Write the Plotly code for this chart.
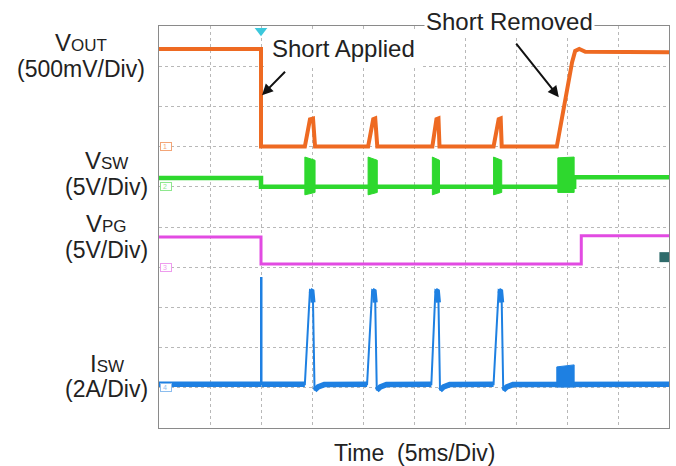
import plotly.graph_objects as go
import numpy as np

# ---------------- data (time in ms, 5 ms/div; amplitudes in screen divisions) -------------
# VOUT (500 mV/div)
vout_t = [0, 10.0, 10.0, 14.3, 14.8, 15.1, 15.3, 20.5, 21.0, 21.2, 21.4, 26.8, 27.2, 27.4, 27.5,
          32.8, 33.3, 33.5, 33.6, 39.0, 40.5, 40.8, 41.2, 41.8, 50]
vout_v = [9.43, 9.43, 7.0, 7.0, 7.68, 7.70, 7.0, 7.0, 7.68, 7.70, 7.0, 7.0, 7.68, 7.70, 7.0,
          7.0, 7.68, 7.70, 7.0, 7.0, 9.10, 9.38, 9.43, 9.36, 9.35]

# VSW (5 V/div) - level trace
vsw_t = [0, 10.0, 10.0, 40.7, 40.7, 50]
vsw_v = [6.22, 6.22, 6.0, 6.0, 6.24, 6.24]
# VSW switching bursts
burst_start = [14.3, 20.5, 26.8, 32.8, 39.1]
burst_end = [15.3, 21.4, 27.5, 33.6, 40.7]
burst_top_l = [6.74, 6.74, 6.74, 6.74, 6.72]
burst_top_r = [6.66, 6.66, 6.66, 6.66, 6.74]
burst_bot_l = [5.80, 5.80, 5.80, 5.80, 5.86]
burst_bot_r = [5.86, 5.86, 5.86, 5.86, 5.86]

# VPG (5 V/div)
vpg_t = [0, 10.0, 10.0, 41.4, 41.4, 50]
vpg_v = [4.75, 4.75, 4.08, 4.08, 4.78, 4.78]

# ISW (2 A/div)
isw_t = [0, 10.0, 10.0, 10.05, 10.05, 14.3, 14.8, 15.0, 15.1, 15.25, 15.6, 16.2,
         20.4, 20.9, 21.1, 21.2, 21.35, 21.7, 22.3,
         26.7, 27.1, 27.3, 27.4, 27.55, 27.9, 28.5,
         32.8, 33.3, 33.5, 33.6, 33.75, 34.1, 34.7, 50]
isw_v = [1.09, 1.09, 3.73, 3.73, 1.09, 1.09, 3.43, 3.40, 3.12, 0.94, 1.02, 1.08,
         1.09, 3.43, 3.40, 3.12, 0.94, 1.02, 1.08,
         1.09, 3.43, 3.40, 3.12, 0.94, 1.02, 1.08,
         1.09, 3.43, 3.40, 3.12, 0.94, 1.02, 1.08, 1.09]
# ISW burst block when short is removed
isw_blk_t = [39.0, 40.7]
isw_blk_top = [1.52, 1.57]
isw_blk_base = [1.02, 1.02]

# channel ground markers (divisions)
gnd_levels = [7.0, 6.0, 4.0, 1.0]
gnd_labels = ["1", "2", "3", "4"]
trig_time = 10.0
trig_level = 4.25

C_OUT = "#EE6A22"
C_SW = "#2ED82E"
C_PG = "#E24BE2"
C_I = "#1E80E2"
FONT = "Liberation Sans, Arial, sans-serif"

fig = go.Figure()

# VOUT
fig.add_trace(go.Scatter(x=vout_t, y=vout_v, mode="lines",
                         line=dict(color=C_OUT, width=4), hoverinfo="skip"))

# VSW bursts polygons
bx, by = [], []
for s, e, tl, tr, br, bl in zip(burst_start, burst_end, burst_top_l, burst_top_r, burst_bot_r, burst_bot_l):
    bx += [s, e, e, s, s, None]
    by += [tl, tr, br, bl, tl, None]
fig.add_trace(go.Scatter(x=bx, y=by, mode="lines", fill="toself", fillcolor=C_SW,
                         line=dict(color=C_SW, width=1), hoverinfo="skip"))
fig.add_trace(go.Scatter(x=vsw_t, y=vsw_v, mode="lines",
                         line=dict(color=C_SW, width=4.5), hoverinfo="skip"))

# VPG
fig.add_trace(go.Scatter(x=vpg_t, y=vpg_v, mode="lines",
                         line=dict(color=C_PG, width=3), hoverinfo="skip"))

# ISW thin trace (full)
fig.add_trace(go.Scatter(x=isw_t, y=isw_v, mode="lines",
                         line=dict(color=C_I, width=2), hoverinfo="skip"))
# ISW thick baseline + thick peaks
it = np.array(isw_t, dtype=float)
iv = np.array(isw_v, dtype=float)
base_mask = iv < 1.15
thick_y = np.where(base_mask, iv, np.nan)
fig.add_trace(go.Scatter(x=it, y=thick_y, mode="lines", connectgaps=False,
                         line=dict(color=C_I, width=5.5), hoverinfo="skip"))
peak_mask = iv > 3.0
peak_mask[1:5] = False
peak_y = np.where(peak_mask, iv, np.nan)
fig.add_trace(go.Scatter(x=it, y=peak_y, mode="lines", connectgaps=False,
                         line=dict(color=C_I, width=5), hoverinfo="skip"))
# ISW block
fig.add_trace(go.Scatter(x=[isw_blk_t[0], isw_blk_t[1], isw_blk_t[1], isw_blk_t[0], isw_blk_t[0]],
                         y=[isw_blk_top[0], isw_blk_top[1], isw_blk_base[1], isw_blk_base[0], isw_blk_top[0]],
                         mode="lines", fill="toself", fillcolor=C_I,
                         line=dict(color=C_I, width=1), hoverinfo="skip"))

# trigger marker
fig.add_trace(go.Scatter(x=[trig_time], y=[9.88], mode="markers", cliponaxis=False,
                         marker=dict(symbol="triangle-down", size=11, color="#3CC8DC"),
                         hoverinfo="skip"))
# trigger level marker (right edge)
fig.add_trace(go.Scatter(x=[49.55], y=[trig_level], mode="markers", cliponaxis=False,
                         marker=dict(symbol="square", size=10, color="#2F6B6B"),
                         hoverinfo="skip"))

annotations = []
# ground tags
tag_colors = ["#F3A577", "#8EE88E", "#EE9CEE", "#8CBDEE"]
for lvl, lab, col in zip(gnd_levels, gnd_labels, tag_colors):
    annotations.append(dict(x=0.08, y=lvl, xref="x", yref="y", text=f"&nbsp;{lab}&nbsp;&nbsp;",
                            showarrow=False, xanchor="left", yanchor="middle",
                            font=dict(size=7, color=col, family=FONT),
                            bordercolor=col, borderwidth=1, borderpad=0, bgcolor="white"))

# channel labels
def lab(main, sub, unit, xc, y1, y2):
    annotations.append(dict(x=xc, y=y1, xref="paper", yref="paper", showarrow=False,
                            xanchor="center", yanchor="middle",
                            text=f"{main}<span style='font-size:17px'>{sub}</span>",
                            font=dict(size=24, color="#222222", family=FONT)))
    annotations.append(dict(x=xc, y=y2, xref="paper", yref="paper", showarrow=False,
                            xanchor="center", yanchor="middle", text=unit,
                            font=dict(size=23, color="#222222", family=FONT)))

lab("V", "OUT", "(500mV/Div)", -0.153, 0.960, 0.893)
lab("V", "SW", "(5V/Div)", -0.102, 0.666, 0.600)
lab("V", "PG", "(5V/Div)", -0.102, 0.509, 0.443)
lab("I", "SW", "(2A/Div)", -0.102, 0.161, 0.096)

annotations.append(dict(x=0.5, y=-0.062, xref="paper", yref="paper", showarrow=False,
                        xanchor="center", yanchor="middle", text="Time&nbsp; (5ms/Div)",
                        font=dict(size=23, color="#222222", family=FONT)))

# event annotations
annotations.append(dict(x=18.1, y=9.43, xref="x", yref="y", text="Short Applied", showarrow=False,
                        font=dict(size=24, color="#222222", family=FONT),
                        bgcolor="white", borderpad=5))
annotations.append(dict(x=34.4, y=1.01, xref="x", yref="paper", text="Short Removed", showarrow=False,
                        yanchor="middle",
                        font=dict(size=24, color="#222222", family=FONT),
                        bgcolor="white", borderpad=1))
annotations.append(dict(x=10.1, y=8.28, ax=12.5, ay=8.9, xref="x", yref="y", axref="x", ayref="y",
                        text="", showarrow=True, arrowhead=2, arrowsize=1.1, arrowwidth=2,
                        arrowcolor="#111111"))
annotations.append(dict(x=39.2, y=8.23, ax=34.9, ay=9.6, xref="x", yref="y", axref="x", ayref="y",
                        text="", showarrow=True, arrowhead=2, arrowsize=1.1, arrowwidth=2,
                        arrowcolor="#111111"))

fig.update_layout(
    width=676, height=466,
    margin=dict(l=159, r=7, t=26, b=38),
    paper_bgcolor="white", plot_bgcolor="white",
    showlegend=False,
    annotations=annotations,
    xaxis=dict(range=[0, 50], dtick=5, showticklabels=False, ticks="",
               showgrid=True, gridcolor="#B8B8B8", griddash="dot", gridwidth=1,
               zeroline=False, showline=True, mirror=True, linecolor="#8A8A8A", linewidth=1,
               fixedrange=True),
    yaxis=dict(range=[0, 10], dtick=1, showticklabels=False, ticks="",
               showgrid=True, gridcolor="#B8B8B8", griddash="dot", gridwidth=1,
               zeroline=False, showline=True, mirror=True, linecolor="#8A8A8A", linewidth=1,
               fixedrange=True),
)

fig.write_html("out.html", config={"displayModeBar": False},
               post_script="document.body.style.margin='0';document.body.style.overflow='hidden';")
